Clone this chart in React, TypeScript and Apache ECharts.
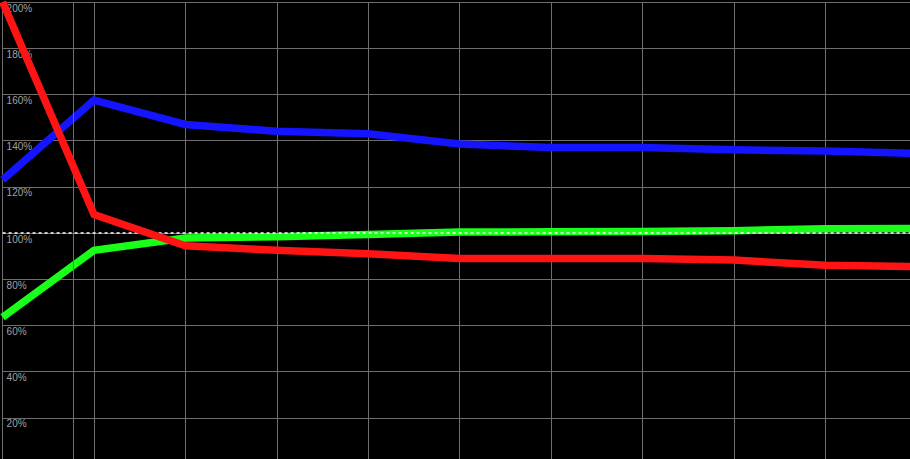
import React, { useEffect, useRef } from "react";
import * as echarts from "echarts";

const steps = [0, 1, 2, 3, 4, 5, 6, 7, 8, 9, 10];
const blueValues = [123, 157.5, 147, 144, 143, 138.5, 137, 137, 136, 135.5, 134.5];
const greenValues = [63.5, 92.5, 97.8, 98.4, 99.3, 100.4, 100.5, 100.6, 101, 101.8, 102];
const redValues = [200, 108, 94.5, 92.5, 91, 89, 89, 89, 88.3, 86, 85.5];
const referenceLevel = 100;
const extraVerticalAt = 0.77;

export default function App() {
  const ref = useRef<HTMLDivElement>(null);
  useEffect(() => {
    if (!ref.current) return;
    const chart = echarts.init(ref.current, null, { renderer: "svg" });
    const toPairs = (vals: number[]) => steps.map((s, i) => [s, vals[i]]);
    const lineSeries = (name: string, vals: number[], color: string, z: number) => ({
      name,
      type: "line",
      data: toPairs(vals),
      showSymbol: false,
      symbol: "none",
      z,
      lineStyle: { color, width: 7.5, cap: "butt", join: "miter" },
      itemStyle: { color },
    });
    chart.setOption({
      animation: false,
      backgroundColor: "#000000",
      grid: { left: 2.6, top: 2, right: 1.4, bottom: 2, containLabel: false, outerBoundsMode: "none" },
      xAxis: {
        type: "value",
        min: 0,
        max: 10,
        interval: 1,
        axisLine: { show: false },
        axisTick: { show: false },
        axisLabel: { show: false },
        splitLine: { show: true, lineStyle: { color: "#6e6e6e", width: 1 } },
      },
      yAxis: {
        type: "value",
        min: 0,
        max: 200,
        interval: 20,
        axisLine: { show: false },
        axisTick: { show: false },
        axisLabel: {
          inside: true,
          margin: 4,
          formatter: (v: number) => (v === 0 ? "" : v + "%"),
          color: "#a0a0a0",
          fontSize: 10,
          fontFamily: "Liberation Sans",
          verticalAlign: "top",
          padding: [1, 0, 0, 0],
        },
        splitLine: { show: true, lineStyle: { color: "#6e6e6e", width: 1 } },
      },
      series: [
        {
          type: "line",
          data: [],
          z: 1,
          markLine: {
            silent: true,
            symbol: "none",
            label: { show: false },
            lineStyle: { color: "#6e6e6e", width: 1, type: "solid" },
            data: [{ xAxis: extraVerticalAt }],
          },
        },
        lineSeries("green", greenValues, "#19ff19", 3),
        lineSeries("blue", blueValues, "#1414ff", 4),
        lineSeries("red", redValues, "#ff1414", 5),
        {
          type: "line",
          data: [],
          z: 10,
          markLine: {
            silent: true,
            symbol: "none",
            label: { show: false },
            lineStyle: { color: "#ffffff", width: 1.5, type: [3, 3] },
            data: [{ yAxis: referenceLevel }],
          },
        },
      ],
    });
    return () => chart.dispose();
  }, []);
  return (
    <div
      style={{
        position: "absolute",
        left: 0,
        top: 0,
        width: 910,
        height: 459,
        overflow: "hidden",
        background: "#000",
      }}
    >
      <div ref={ref} style={{ width: 918, height: 466 }} />
    </div>
  );
}
